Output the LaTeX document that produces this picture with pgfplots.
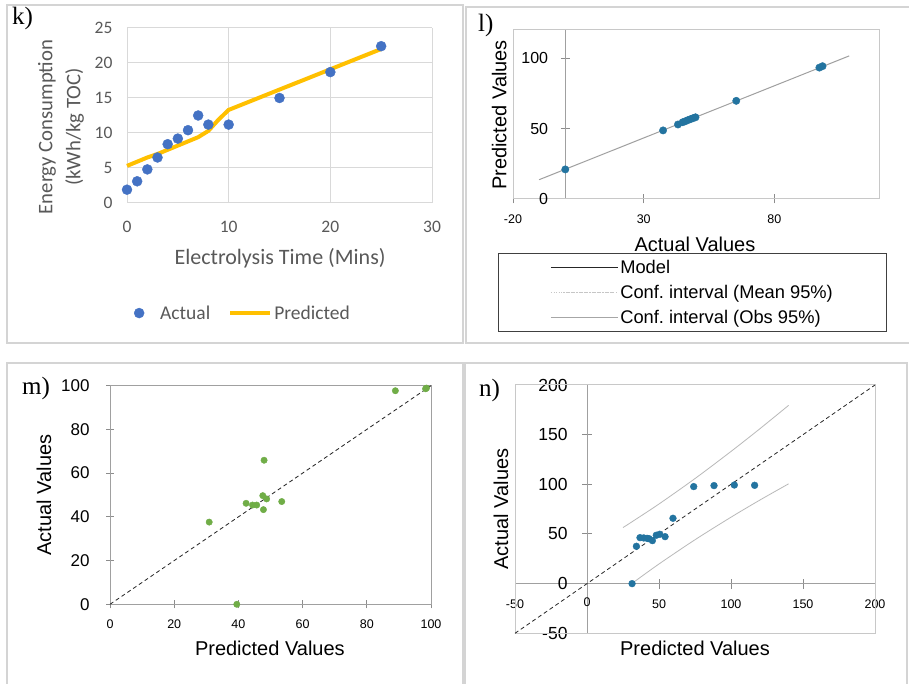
\documentclass[border=0pt]{standalone}
\usepackage{fontspec}
\setmainfont{Liberation Serif}
\newfontfamily\calibri{Carlito}
\newfontfamily\arial{Liberation Sans}
\usepackage{pgfplots}
\pgfplotsset{compat=1.18}
\definecolor{kblue}{HTML}{4472C4}
\definecolor{kgold}{HTML}{FFC000}
\definecolor{kgray}{HTML}{595959}
\definecolor{kgrid}{HTML}{D9D9D9}
\definecolor{dotblue}{RGB}{35,116,160}
\definecolor{mgreen}{HTML}{70AD47}
\definecolor{panelframe}{HTML}{D4D4D4}
\definecolor{axgray}{HTML}{A0A0A0}
\definecolor{tickgray}{HTML}{8C8C8C}
\definecolor{boxgray}{HTML}{C8C8C8}
\pgfplotsset{every axis/.append style={/pgf/number format/assume math mode=true}}

\begin{document}
\begin{tikzpicture}
\useasboundingbox (0pt,0pt) rectangle (909pt,684pt);
\fill[white] (0pt,0pt) rectangle (909pt,684pt);
\draw[panelframe, line width=1.5pt] (7pt,679pt) rectangle (463pt,341pt);
\draw[panelframe, line width=1.5pt] (466pt,677pt) rectangle (912pt,341pt);
\draw[panelframe, line width=1.5pt] (7pt,321pt) rectangle (463pt,-5pt);
\draw[panelframe, line width=1.5pt] (465pt,321pt) rectangle (907pt,-5pt);

\node[anchor=base west, font=\fontsize{25}{28}\selectfont, inner sep=0pt] at (12pt,659pt) {k)};
\node[anchor=base west, font=\fontsize{25}{28}\selectfont, inner sep=0pt] at (478pt,652pt) {l)};
\node[anchor=base west, font=\fontsize{25}{28}\selectfont, inner sep=0pt] at (22pt,289pt) {m)};
\node[anchor=base west, font=\fontsize{25}{28}\selectfont, inner sep=0pt] at (479pt,287pt) {n)};

% ---------------- panel k ----------------
\begin{axis}[
  at={(127pt,481pt)}, anchor=south west, scale only axis,
  width=305pt, height=175pt,
  xmin=0, xmax=30, ymin=0, ymax=25,
  xtick={0,10,20,30}, ytick={0,5,10,15,20,25},
  grid=major, grid style={kgrid, line width=1pt},
  axis line style={draw=none}, major tick length=0pt,
  tick label style={font=\calibri\fontsize{17.5}{19}\selectfont, text=kgray},
  xticklabel style={yshift=-15pt},
  yticklabel style={xshift=-11pt},
  xlabel={Electrolysis Time (Mins)},
  xlabel style={at={(axis description cs:0.502,-0.314)}, anchor=center, font=\calibri\fontsize{22}{24}\selectfont, text=kgray},
  ylabel={Energy Consumption\\(kWh/kg TOC)},
  ylabel style={at={(axis description cs:-0.216,0.434)}, anchor=center, align=center, font=\calibri\fontsize{20.7}{28}\selectfont, text=kgray},
  legend style={at={(axis description cs:0.38,-0.629)}, anchor=center, draw=none, fill=none, legend columns=2, font=\calibri\fontsize{19.5}{22}\selectfont, text=kgray, /tikz/every even column/.append style={column sep=16pt}},
  clip=false,
]
\addlegendimage{kblue, legend image code/.code={\draw[draw=none] (-5pt,-5pt) rectangle (19pt,5pt); \fill[kblue] (0pt,0pt) circle (5pt);}}
\addlegendentry{Actual}
\addlegendimage{kgold, line width=4pt, legend image code/.code={\draw (0pt,0pt) -- (40pt,0pt);}}
\addlegendentry{Predicted}
\addplot[kgold, line width=4pt, mark=none, forget plot] coordinates {
(0,5.3) (1,5.9) (2,6.5) (3,7.0) (4,7.6) (5,8.2) (6,8.8) (7,9.4) (8,10.3) (9,11.9) (10,13.3) (15,16.2) (20,19.1) (25,22.0)};
\addplot[only marks, mark=*, mark size=5pt, mark options={draw=kblue, fill=kblue}, forget plot] coordinates {
(0,1.9) (1,3.1) (2,4.8) (3,6.5) (4,8.4) (5,9.2) (6,10.4) (7,12.5) (8,11.2) (10,11.2) (15,15.0) (20,18.7) (25,22.4)};
\end{axis}

% ---------------- panel l ----------------
\begin{axis}[
  at={(513pt,485pt)}, anchor=south west, scale only axis,
  width=366pt, height=169pt,
  xmin=-20, xmax=120, ymin=0, ymax=120,
  axis x line=bottom, axis y line=middle,
  axis line style={axgray, line width=1pt, -},
  every inner x axis line/.append style={-}, every inner y axis line/.append style={-},
  every outer x axis line/.append style={-}, every outer y axis line/.append style={-},
  xtick={-20,30,80}, xticklabels={-20,30,80}, ytick={50,100}, yticklabels={50,100},
  tick align=center, major tick length=9pt, tick style={tickgray, line width=1pt},
  xticklabel style={font=\arial\fontsize{12.5}{14}\selectfont, yshift=-8pt},
  yticklabel style={font=\arial\fontsize{16}{18}\selectfont, inner sep=0pt, xshift=-12.5pt},
  xlabel={Actual Values},
  xlabel style={at={(axis description cs:0.497,-0.266)}, anchor=center, font=\arial\fontsize{20}{22}\selectfont},
  ylabel={Predicted Values},
  ylabel style={at={(axis description cs:-0.038,0.497)}, anchor=center, rotate=90, font=\arial\fontsize{20}{22}\selectfont},
  legend style={at={(axis description cs:-0.041,-0.3195)}, anchor=north west, draw=black!75, line width=1pt, font=\arial\fontsize{18.3}{21}\selectfont, inner xsep=52pt, inner ysep=5pt, row sep=6pt},
  legend cell align=left,
  legend image code/.code={\path (-5pt,0pt) -- (62pt,0pt); \draw (7pt,0pt) -- (58pt,0pt);},
  clip=false,
]
\draw[boxgray, line width=1pt] (rel axis cs:0,0) rectangle (rel axis cs:1,1);
\node[anchor=east, inner sep=0pt, xshift=-17pt, font=\arial\fontsize{16}{18}\selectfont] at (axis cs:0,0) {0};
\addlegendimage{black!85, line width=0.8pt}
\addlegendentry{Model}
\addlegendimage{gray!45, line width=0.6pt, dotted}
\addlegendentry{Conf.\ interval (Mean 95\%)}
\addlegendimage{gray!70, line width=0.8pt}
\addlegendentry{Conf.\ interval (Obs 95\%)}
\addplot[axgray, line width=1pt, mark=none, forget plot] coordinates {(-10,13.7) (108.6,101.6)};
\addplot[only marks, mark=*, mark size=3.7pt, mark options={draw=dotblue, fill=dotblue}, forget plot] coordinates {
(0,21.0) (37.4,48.7) (43.1,52.9) (44.9,54.5) (45.9,55.2) (46.9,56.0) (47.9,56.7) (48.9,57.4) (49.8,58.0) (65.4,69.7) (97.2,93.3) (98.4,94.3)};
\end{axis}

% ---------------- panel m ----------------
\begin{axis}[
  at={(110pt,79.7pt)}, anchor=south west, scale only axis,
  width=321pt, height=218.6pt,
  xmin=0, xmax=100, ymin=0, ymax=100,
  axis line style={axgray, line width=1pt},
  tick pos=left, tick align=center, major tick length=8pt, tick style={tickgray, line width=1pt},
  xtick={0,20,40,60,80,100}, ytick={0,20,40,60,80,100},
  xticklabel style={font=\arial\fontsize{12.5}{14}\selectfont, yshift=-8pt},
  yticklabel style={font=\arial\fontsize{17}{19}\selectfont, xshift=-13pt},
  xlabel={Predicted Values},
  xlabel style={at={(axis description cs:0.498,-0.2)}, anchor=center, font=\arial\fontsize{20}{22}\selectfont},
  ylabel={Actual Values},
  ylabel style={at={(axis description cs:-0.2056,0.5)}, anchor=center, font=\arial\fontsize{20}{22}\selectfont},
  clip=false,
]
\addplot[black!85, line width=0.8pt, dash pattern=on 4pt off 3pt, mark=none] coordinates {(0,0) (100,100)};
\addplot[only marks, mark=*, mark size=3.2pt, mark options={draw=mgreen, fill=mgreen}] coordinates {
(30.9,37.6) (39.5,0) (42.4,46.2) (44.4,45.4) (45.7,45.4) (47.6,49.7) (47.8,43.3) (48.0,65.9) (48.8,48.2) (53.5,47.0) (88.9,97.7) (98.3,98.6) (98.6,98.9)};
\end{axis}

% ---------------- panel n ----------------
\begin{axis}[
  at={(515pt,50.7pt)}, anchor=south west, scale only axis,
  width=360pt, height=248.3pt,
  xmin=-50, xmax=200, ymin=-50, ymax=200,
  axis x line=middle, axis y line=middle,
  axis line style={axgray, line width=1pt, -},
  every inner x axis line/.append style={-}, every inner y axis line/.append style={-},
  every outer x axis line/.append style={-}, every outer y axis line/.append style={-},
  xtick={-50,50,100,150,200}, xticklabels={-50,50,100,150,200},
  ytick={-50,50,100,150,200}, yticklabels={-50,50,100,150,200},
  tick align=center, major tick length=10pt, tick style={tickgray, line width=1pt},
  xticklabel style={font=\arial\fontsize{12.5}{14}\selectfont, yshift=-8pt},
  yticklabel style={font=\arial\fontsize{17.5}{19}\selectfont, inner sep=0pt, xshift=-14.3pt},
  xlabel={Predicted Values},
  xlabel style={at={(axis description cs:0.5,-0.059)}, anchor=center, font=\arial\fontsize{20}{22}\selectfont},
  ylabel={Actual Values},
  ylabel style={at={(axis description cs:-0.039,0.5)}, anchor=center, rotate=90, font=\arial\fontsize{20}{22}\selectfont},
  clip=false,
]
\draw[boxgray, line width=1pt] (rel axis cs:0,0) rectangle (rel axis cs:1,1);
\node[anchor=east, inner sep=0pt, xshift=-19.3pt, font=\arial\fontsize{17.5}{19}\selectfont] at (axis cs:0,0) {0};
\node[anchor=center, inner sep=0pt, yshift=-18.7pt, font=\arial\fontsize{12.5}{14}\selectfont] at (axis cs:0,0) {0};
\addplot[black!85, line width=0.8pt, dash pattern=on 4pt off 3pt, mark=none] coordinates {(-50,-50) (200,200)};
\addplot[gray!55, line width=0.8pt, smooth, mark=none] coordinates {(25,56.5) (30,61.1) (50,80.2) (75,105.8) (100,133.1) (120,155.9) (140,179.5)};
\addplot[gray!55, line width=0.8pt, smooth, mark=none] coordinates {(32,1.0) (50,19.8) (75,44.2) (100,66.9) (120,84.1) (140,100.5)};
\addplot[only marks, mark=*, mark size=3.4pt, mark options={draw=dotblue, fill=dotblue}] coordinates {
(31.3,0) (34.3,37.6) (36.8,46.3) (39.4,46.0) (41.7,45.6) (43.0,45.3) (45.4,43.3) (48.1,48.7) (50.5,49.7) (54.2,47.3) (59.7,65.8) (74.1,97.7) (88.2,98.7) (102.3,99.3) (116.4,99.0)};
\end{axis}
\end{tikzpicture}
\end{document}
